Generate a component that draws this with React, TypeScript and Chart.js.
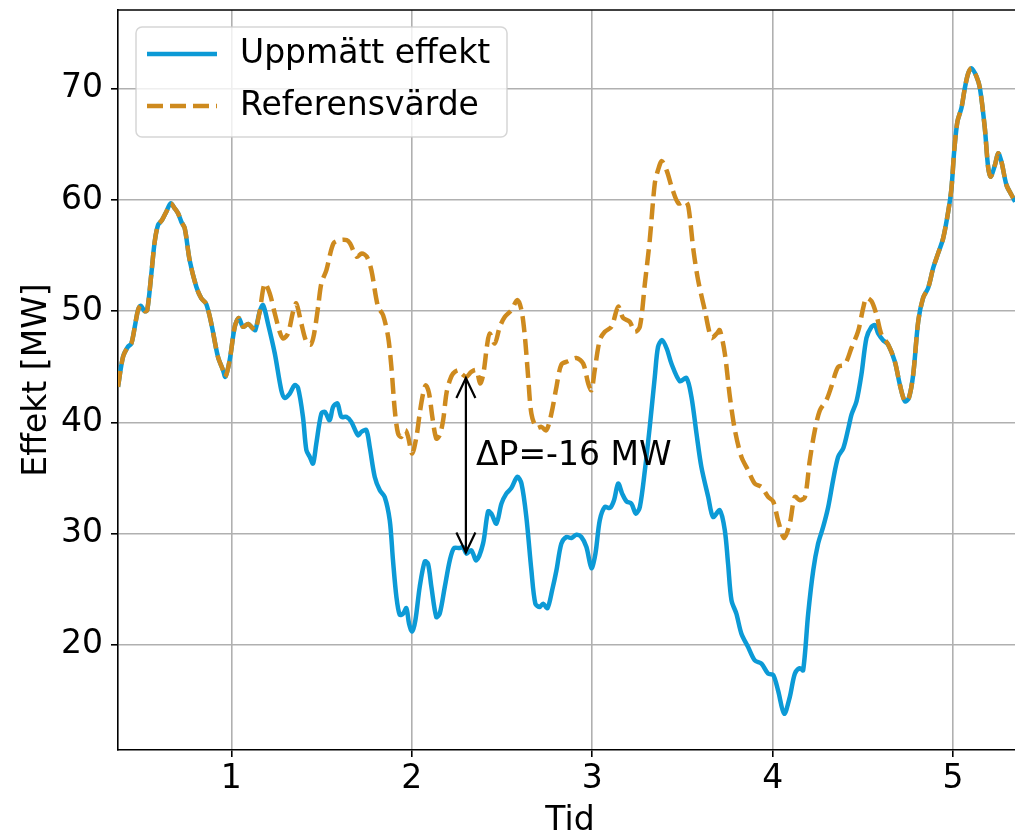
import React, { useEffect, useRef } from "react";
import { Chart, registerables } from "chart.js";

Chart.register(...registerables);

// ---- Data (time in "Tid" units, power in MW) ----
const sharedStartTime = [0.372, 0.4, 0.427, 0.446, 0.465, 0.483, 0.498, 0.52, 0.534, 0.557, 0.575, 0.594, 0.616, 0.64, 0.664, 0.686, 0.705, 0.723, 0.742, 0.769, 0.806, 0.834, 0.861, 0.889, 0.926, 0.954, 0.967, 0.991, 1.019, 1.041, 1.065, 1.093, 1.12, 1.133, 1.157];
const sharedStartPower = [43.2, 45.9, 46.8, 47.1, 48.6, 50.1, 50.5, 50.0, 50.1, 53.4, 56.2, 57.75, 58.2, 58.95, 59.7, 59.25, 58.8, 58.05, 57.45, 54.6, 52.2, 51.15, 50.65, 48.9, 45.9, 44.7, 44.1, 45.6, 48.6, 49.4, 48.6, 48.85, 48.45, 48.3, 49.95];

const measuredMidTime = [1.176, 1.203, 1.241, 1.277, 1.296, 1.324, 1.351, 1.37, 1.397, 1.416, 1.435, 1.453, 1.471, 1.499, 1.518, 1.545, 1.564, 1.588, 1.61, 1.637, 1.665, 1.702, 1.721, 1.748, 1.767, 1.795, 1.823, 1.85, 1.878, 1.896, 1.915, 1.933, 1.952, 1.97, 1.985, 2.002, 2.02, 2.044, 2.072, 2.09, 2.109, 2.136, 2.155, 2.183, 2.211, 2.234, 2.266, 2.284, 2.303, 2.33, 2.358, 2.395, 2.423, 2.441, 2.469, 2.497, 2.524, 2.552, 2.585, 2.608, 2.635, 2.663, 2.685, 2.709, 2.728, 2.752, 2.778, 2.802, 2.829, 2.857, 2.885, 2.912, 2.94, 2.968, 2.996, 3.018, 3.042, 3.07, 3.098, 3.121, 3.144, 3.166, 3.19, 3.217, 3.242, 3.264, 3.292, 3.319, 3.347, 3.365, 3.387, 3.414, 3.439, 3.486, 3.522, 3.55, 3.578, 3.605, 3.643, 3.67, 3.707, 3.735, 3.753, 3.772, 3.799, 3.827, 3.864, 3.901, 3.938, 3.975, 4.003, 4.03, 4.064, 4.095, 4.123, 4.151, 4.169, 4.197, 4.225, 4.252, 4.28, 4.308, 4.335, 4.363, 4.392, 4.42, 4.437, 4.465, 4.492, 4.52, 4.548, 4.567, 4.585, 4.612];
const measuredMidPower = [50.55, 48.9, 46.2, 42.9, 42.2, 42.6, 43.35, 43.1, 40.5, 37.5, 36.9, 36.3, 38.1, 40.8, 40.95, 40.2, 41.4, 41.7, 40.5, 40.5, 40.05, 38.85, 39.15, 39.3, 37.8, 35.1, 33.9, 33.3, 31.2, 27.6, 24.3, 22.7, 22.8, 23.3, 21.9, 21.2, 22.2, 25.2, 27.5, 27.3, 25.2, 22.5, 22.8, 25.2, 27.6, 28.7, 28.7, 28.8, 28.2, 28.5, 27.6, 29.1, 32.0, 31.8, 30.9, 32.7, 33.6, 34.1, 35.1, 34.5, 31.5, 26.7, 23.7, 23.4, 23.7, 23.3, 24.9, 26.7, 29.1, 29.7, 29.6, 29.9, 29.7, 28.8, 26.9, 28.2, 31.2, 32.4, 32.3, 33.0, 34.5, 33.6, 32.9, 32.7, 31.8, 32.4, 35.7, 39.6, 44.1, 46.8, 47.4, 46.6, 45.3, 43.7, 44.0, 42.3, 39.0, 36.0, 33.3, 31.5, 32.1, 30.3, 27.3, 24.0, 22.8, 21.0, 19.8, 18.6, 18.3, 17.4, 17.3, 15.9, 13.8, 15.3, 17.4, 17.9, 17.7, 22.8, 26.7, 29.1, 30.6, 32.4, 34.8, 36.9, 37.7, 39.5, 40.7, 41.9, 44.3, 47.6, 48.6, 48.75, 48.0, 47.4];

const referenceMidTime = [1.185, 1.213, 1.241, 1.268, 1.287, 1.314, 1.342, 1.36, 1.388, 1.416, 1.44, 1.458, 1.481, 1.499, 1.527, 1.566, 1.603, 1.64, 1.658, 1.695, 1.723, 1.751, 1.776, 1.813, 1.841, 1.869, 1.887, 1.906, 1.924, 1.942, 1.965, 1.98, 2.002, 2.026, 2.044, 2.063, 2.078, 2.096, 2.114, 2.136, 2.155, 2.174, 2.192, 2.211, 2.229, 2.257, 2.275, 2.303, 2.33, 2.358, 2.379, 2.397, 2.418, 2.432, 2.46, 2.488, 2.516, 2.552, 2.585, 2.608, 2.627, 2.645, 2.663, 2.691, 2.718, 2.746, 2.774, 2.802, 2.829, 2.866, 2.912, 2.95, 2.978, 2.996, 3.014, 3.042, 3.07, 3.107, 3.144, 3.171, 3.208, 3.236, 3.264, 3.292, 3.319, 3.347, 3.365, 3.386, 3.414, 3.441, 3.478, 3.515, 3.533, 3.561, 3.587, 3.624, 3.661, 3.691, 3.707, 3.735, 3.763, 3.791, 3.827, 3.864, 3.901, 3.938, 3.975, 4.003, 4.03, 4.064, 4.095, 4.123, 4.151, 4.179, 4.206, 4.234, 4.262, 4.298, 4.325, 4.363, 4.4, 4.437, 4.474, 4.502, 4.52, 4.548, 4.575, 4.603];
const referenceMidPower = [52.5, 51.6, 49.8, 48.15, 47.55, 48.0, 49.95, 50.7, 48.9, 47.25, 47.0, 47.9, 50.4, 52.5, 53.7, 56.1, 56.4, 56.4, 56.1, 54.9, 55.2, 54.9, 53.7, 50.4, 49.65, 47.7, 45.0, 41.1, 39.0, 38.7, 39.3, 38.7, 37.2, 38.7, 40.8, 42.6, 43.35, 42.6, 40.5, 38.55, 38.85, 40.2, 42.6, 43.8, 44.4, 44.7, 44.4, 44.1, 44.55, 44.7, 43.5, 44.4, 47.0, 48.0, 47.1, 48.6, 49.5, 50.1, 51.0, 50.1, 47.7, 44.1, 40.8, 39.5, 39.6, 39.3, 40.8, 43.2, 45.2, 45.5, 45.8, 45.3, 43.5, 42.9, 44.7, 47.4, 48.15, 48.6, 50.4, 49.4, 49.05, 48.15, 48.6, 52.5, 56.4, 61.5, 62.7, 63.5, 62.6, 61.15, 59.7, 59.9, 59.4, 55.5, 52.8, 50.1, 47.6, 48.0, 48.3, 46.2, 42.3, 39.3, 36.9, 35.7, 34.5, 34.2, 33.3, 32.9, 31.2, 29.6, 30.9, 33.3, 33.0, 33.3, 36.6, 39.3, 41.1, 42.0, 43.2, 45.0, 45.2, 46.7, 48.2, 50.3, 51.2, 50.9, 49.7, 47.9];

const sharedEndTime = [4.64, 4.677, 4.705, 4.733, 4.755, 4.779, 4.807, 4.834, 4.862, 4.89, 4.917, 4.945, 4.973, 4.991, 5.006, 5.024, 5.046, 5.065, 5.084, 5.102, 5.13, 5.149, 5.176, 5.195, 5.209, 5.232, 5.25, 5.268, 5.296, 5.324, 5.344];
const sharedEndPower = [47.0, 45.5, 43.4, 41.9, 42.2, 44.3, 49.1, 51.2, 52.1, 53.9, 55.2, 56.55, 58.95, 61.05, 64.35, 67.05, 68.25, 70.05, 71.4, 71.85, 71.1, 70.05, 66.45, 62.85, 62.1, 63.15, 64.2, 63.45, 61.35, 60.45, 59.85];

const seriesLabels = ["Uppmätt effekt", "Referensvärde"];
const xTicks = [1, 2, 3, 4, 5];
const yTicks = [20, 30, 40, 50, 60, 70];
const xRange = [0.372, 5.382];
const yRange = [10.54, 77.09];
const xTitle = "Tid";
const yTitle = "Effekt [MW]";

const annotationTime = 2.3;
const annotationReference = 44.0;
const annotationMeasured = 28.3;
const annotationLabel = "ΔP=-16 MW";
const annotationLabelTime = 2.356;
const annotationLabelPower = 36.15;

// ---- Styles ----
const BLUE = "#0c9ad6";
const ORANGE = "#ce8a1e";
const FONT = '"DejaVu Sans", Verdana, sans-serif';
const FS = 33;

function toPoints(ts: number[], vs: number[]) {
  return ts.map((t, i) => ({ x: t, y: vs[i] }));
}

const overlayPlugin = {
  id: "overlay",
  afterDatasetsDraw(chart: any) {
    const { ctx, chartArea, scales } = chart;
    const xs = scales.x;
    const ys = scales.y;
    ctx.save();

    // top spine
    ctx.strokeStyle = "#000";
    ctx.lineWidth = 1.6;
    ctx.beginPath();
    ctx.moveTo(chartArea.left, chartArea.top);
    ctx.lineTo(chartArea.right, chartArea.top);
    ctx.stroke();

    // double-headed arrow annotation
    const ax = xs.getPixelForValue(annotationTime);
    const yTop = ys.getPixelForValue(annotationReference);
    const yBot = ys.getPixelForValue(annotationMeasured);
    ctx.lineWidth = 2.2;
    ctx.lineJoin = "miter";
    ctx.beginPath();
    ctx.moveTo(ax, yTop);
    ctx.lineTo(ax, yBot);
    ctx.stroke();
    ctx.beginPath();
    ctx.moveTo(ax - 9.5, yTop + 20);
    ctx.lineTo(ax, yTop);
    ctx.lineTo(ax + 9.5, yTop + 20);
    ctx.stroke();
    ctx.beginPath();
    ctx.moveTo(ax - 9.5, yBot - 20);
    ctx.lineTo(ax, yBot);
    ctx.lineTo(ax + 9.5, yBot - 20);
    ctx.stroke();

    ctx.font = `${FS}px ${FONT}`;
    ctx.fillStyle = "#000";
    ctx.textAlign = "left";
    ctx.textBaseline = "alphabetic";
    ctx.fillText(
      annotationLabel,
      xs.getPixelForValue(annotationLabelTime),
      ys.getPixelForValue(annotationLabelPower)
    );

    // legend
    const bx = chartArea.left + 18;
    const by = chartArea.top + 17;
    const bw = 371;
    const bh = 110;
    ctx.beginPath();
    ctx.roundRect(bx, by, bw, bh, 6);
    ctx.fillStyle = "rgba(255,255,255,0.8)";
    ctx.fill();
    ctx.strokeStyle = "rgba(204,204,204,0.8)";
    ctx.lineWidth = 1.5;
    ctx.stroke();

    const rows = [by + 27, by + 79];
    chart.data.datasets.forEach((ds: any, i: number) => {
      const ry = rows[i];
      ctx.beginPath();
      ctx.strokeStyle = ds.borderColor;
      ctx.lineWidth = ds.borderWidth;
      ctx.setLineDash(ds.borderDash || []);
      ctx.moveTo(bx + 11, ry);
      ctx.lineTo(bx + 81, ry);
      ctx.stroke();
      ctx.setLineDash([]);
      ctx.fillStyle = "#000";
      ctx.textBaseline = "middle";
      ctx.fillText(ds.label, bx + 104, ry);
    });

    ctx.restore();
  },
};

export default function App() {
  const canvasRef = useRef<HTMLCanvasElement | null>(null);

  useEffect(() => {
    const canvas = canvasRef.current;
    if (!canvas) return;

    const measured = [
      ...toPoints(sharedStartTime, sharedStartPower),
      ...toPoints(measuredMidTime, measuredMidPower),
      ...toPoints(sharedEndTime, sharedEndPower),
    ];
    const reference = [
      ...toPoints(sharedStartTime, sharedStartPower),
      ...toPoints(referenceMidTime, referenceMidPower),
      ...toPoints(sharedEndTime, sharedEndPower),
    ];

    const tickFont = { family: FONT, size: FS };

    const chart = new Chart(canvas, {
      type: "line",
      data: {
        datasets: [
          {
            label: seriesLabels[0],
            data: measured,
            borderColor: BLUE,
            borderWidth: 4.5,
            pointRadius: 0,
            tension: 0.3,
            fill: false,
            order: 1,
          },
          {
            label: seriesLabels[1],
            data: reference,
            borderColor: ORANGE,
            borderWidth: 4.5,
            borderDash: [16, 7],
            pointRadius: 0,
            tension: 0.3,
            fill: false,
            order: 0,
          },
        ],
      },
      options: {
        responsive: false,
        animation: false,
        devicePixelRatio: 1,
        layout: { padding: { left: 0, top: 10, right: 8, bottom: 0 } },
        plugins: {
          legend: { display: false },
          tooltip: { enabled: false },
        },
        scales: {
          x: {
            type: "linear",
            min: xRange[0],
            max: xRange[1],
            afterBuildTicks: (scale: any) => {
              scale.ticks = xTicks.map((v) => ({ value: v }));
            },
            afterFit: (scale: any) => {
              scale.height = 88;
              scale.paddingLeft = 0;
              scale.paddingRight = 0;
            },
            ticks: {
              font: tickFont,
              color: "#000",
              padding: 3,
              maxRotation: 0,
              autoSkip: false,
              callback: (v: any) => String(v),
            },
            grid: {
              color: "#b0b0b0",
              lineWidth: 1.6,
              drawTicks: true,
              tickLength: 7,
              tickColor: "#000",
              tickWidth: 1.6,
            },
            border: { display: true, color: "#000", width: 1.6 },
            title: {
              display: true,
              text: xTitle,
              color: "#000",
              font: { family: FONT, size: FS, lineHeight: 1 },
              padding: { top: 0, bottom: 0 },
            },
          },
          y: {
            type: "linear",
            min: yRange[0],
            max: yRange[1],
            afterBuildTicks: (scale: any) => {
              scale.ticks = yTicks.map((v) => ({ value: v }));
            },
            afterFit: (scale: any) => {
              scale.width = 118;
              scale.paddingTop = 0;
              scale.paddingBottom = 0;
            },
            ticks: {
              font: tickFont,
              color: "#000",
              padding: 8,
              autoSkip: false,
              callback: (v: any) => String(v),
            },
            grid: {
              color: "#b0b0b0",
              lineWidth: 1.6,
              drawTicks: true,
              tickLength: 7,
              tickColor: "#000",
              tickWidth: 1.6,
            },
            border: { display: true, color: "#000", width: 1.6 },
            title: {
              display: true,
              text: yTitle,
              color: "#000",
              font: { family: FONT, size: FS, lineHeight: 1 },
              padding: { top: 21, bottom: 0 },
            },
          },
        },
      },
      plugins: [overlayPlugin],
    });

    return () => {
      chart.destroy();
    };
  }, []);

  return (
    <div
      style={{
        position: "absolute",
        left: 0,
        top: 0,
        width: 1015,
        height: 838,
        overflow: "hidden",
        background: "#fff",
      }}
    >
      <canvas
        ref={canvasRef}
        width={1030}
        height={838}
        style={{ display: "block", width: 1030, height: 838 }}
      />
    </div>
  );
}
